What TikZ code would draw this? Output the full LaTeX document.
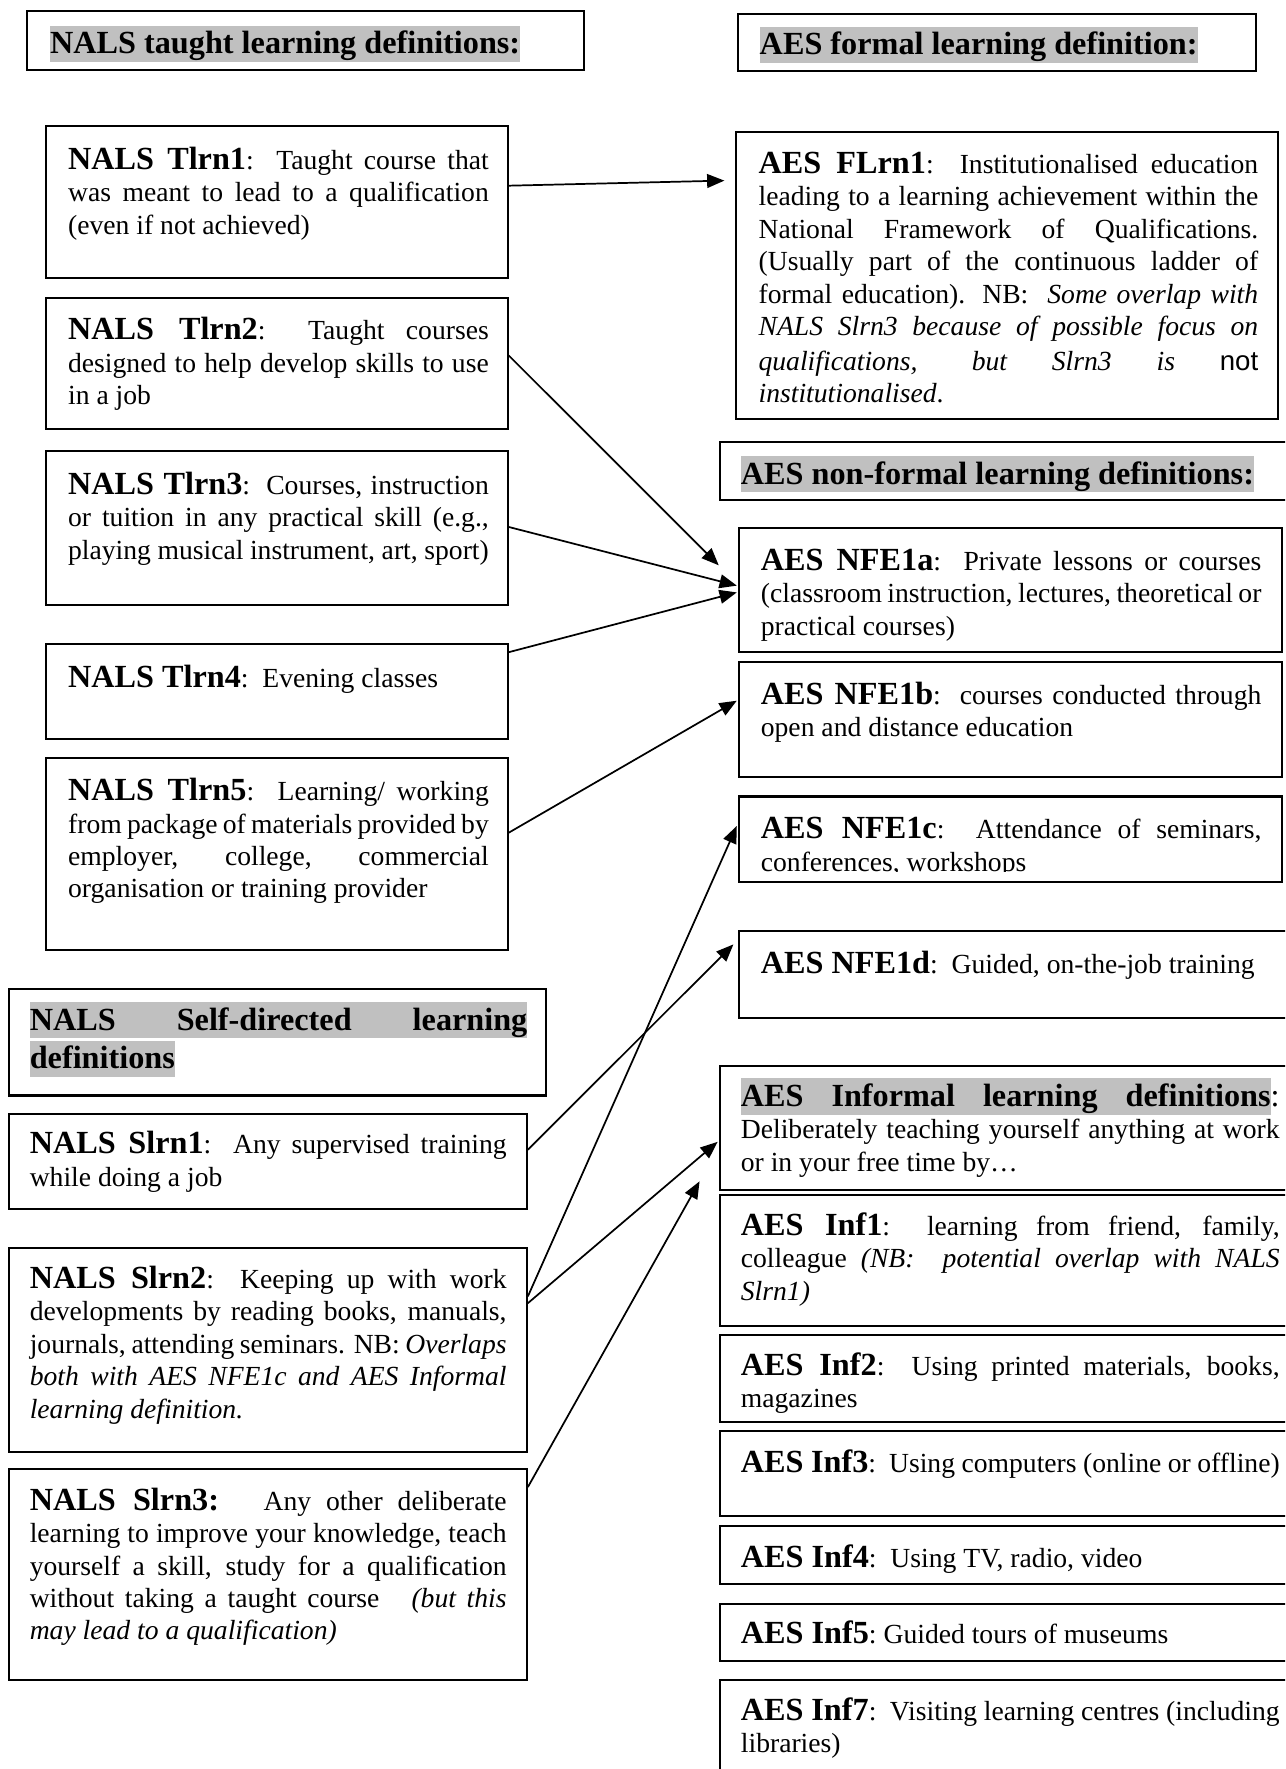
\documentclass[tikz,border=0pt]{standalone}
\usepackage{fontspec}
\setmainfont{Liberation Serif}
\setsansfont{Liberation Sans}
\usetikzlibrary{arrows.meta,fit,calc}
\definecolor{hlgray}{RGB}{192,192,192}
\hyphenpenalty=10000
\exhyphenpenalty=10000
\tolerance=10000
\newcommand{\hd}[1]{{\fontsize{14}{14}\selectfont\bfseries #1}}
\newcommand{\hlstrut}{\rule[-0.26em]{0pt}{1.12em}}
\newcommand{\hlbox}[1]{{\setlength{\fboxsep}{0pt}\colorbox{hlgray}{\hlstrut #1}}}
\tikzset{
  box/.style={draw=black, line width=0.9pt, inner sep=0pt},
  txt/.style={inner sep=0pt, anchor=base west, align=justify, text width=#1,
    font=\fontsize{12}{14.1}\selectfont},
  ttl/.style={inner sep=0pt, anchor=base west, font=\fontsize{14}{16.5}\selectfont\bfseries},
  arr/.style={line width=0.75pt, -{Triangle[length=7.5pt,width=6pt]}},
}
\begin{document}
\begin{tikzpicture}[x=0.49pt,y=-0.49pt]
\useasboundingbox (0,0) rectangle (1139,1568);
\fill[white] (0,0) rectangle (1139,1568);
\clip (0,0) rectangle (1139,1568);

% ---------- boxes ----------
\node[box, fit={(24,10) (518,62)}] (bH1) {};
\node[box, fit={(654,12) (1113,63)}] (bH2) {};
\node[box, fit={(41,112) (450,246)}] (bT1) {};
\node[box, fit={(41,264) (450,380)}] (bT2) {};
\node[box, fit={(41,400) (450,536)}] (bT3) {};
\node[box, fit={(41,571) (450,655)}] (bT4) {};
\node[box, fit={(41,672) (450,842)}] (bT5) {};
\node[box, fit={(652,117) (1133,371)}] (bF1) {};
\node[box, fit={(638,392) (1150,443)}] (bHnf) {};
\node[box, fit={(655,468) (1136,578)}] (bN1a) {};
\node[box, fit={(655,587) (1136,689)}] (bN1b) {};
\node[box, fit={(655,706) (1136,782)}] (bN1c) {};
\node[box, fit={(655,825) (1150,902)}] (bN1d) {};
\node[box, fit={(8,877) (484,971)}] (bHsd) {};
\node[box, fit={(8,987) (467,1072)}] (bS1) {};
\node[box, fit={(8,1106) (467,1287)}] (bS2) {};
\node[box, fit={(8,1302) (467,1489)}] (bS3) {};
\node[box, fit={(638,945) (1150,1055)}] (bInf) {};
\node[box, fit={(638,1059) (1150,1175)}] (bI1) {};
\node[box, fit={(638,1183) (1150,1260)}] (bI2) {};
\node[box, fit={(638,1268) (1150,1344)}] (bI3) {};
\node[box, fit={(638,1353) (1150,1404)}] (bI4) {};
\node[box, fit={(638,1422) (1150,1472)}] (bI5) {};
\node[box, fit={(638,1489) (1150,1590)}] (bI7) {};

% ---------- headings ----------
\node[ttl] (tH1) at (44,47.3) {\hlbox{NALS taught learning definitions:}};
\node[ttl] (tH2) at (673,48.5) {\hlbox{AES formal learning definition:}};
\node[ttl] (tHnf) at (656.3,429) {\hlbox{AES non-formal learning definitions:}};
\node[txt=216.1pt, font=\fontsize{14}{16.9}\selectfont\bfseries] (tHsd) at (26,913)
  {\hlbox{\makebox[\linewidth][s]{NALS Self-directed learning}}\par\hlbox{definitions}};

% ---------- NALS taught ----------
\node[txt=182.7pt] (tT1) at (60,150) {\hd{NALS Tlrn1}:\ \ Taught course that\linebreak was meant to lead to a qualification\linebreak (even if not achieved)};
\node[txt=182.7pt] (tT2) at (60,301) {\hd{NALS Tlrn2}:\ \ Taught courses\linebreak designed to help develop skills to use\linebreak in a job};
\node[txt=182.7pt] (tT3) at (60,438) {\hd{NALS Tlrn3}:\ \ Courses, instruction\linebreak or tuition in any practical skill (e.g.,\linebreak playing musical instrument, art, sport)};
\node[txt=182.7pt] (tT4) at (60,609) {\hd{NALS Tlrn4}:\ \ Evening classes};
\node[txt=182.7pt] (tT5) at (60,709.6) {\hd{NALS Tlrn5}:\ \ Learning/ working\linebreak from package of materials provided by\linebreak employer, college, commercial\linebreak organisation or training provider};

% ---------- AES formal ----------
\node[txt=217pt] (tF1) at (672,153.5) {\hd{AES FLrn1}:\ \ Institutionalised education\linebreak leading to a learning achievement within the\linebreak National Framework of Qualifications.\linebreak (Usually part of the continuous ladder of\linebreak formal education). NB:\ \ \textit{Some overlap with\linebreak NALS Slrn3 because of possible focus on}\vspace{1pt}\linebreak \textit{qualifications, but Slrn3 is} {\sffamily not}\linebreak \textit{institutionalised}.};

% ---------- AES non-formal ----------
\node[txt=217.4pt] (tN1a) at (674,505.6) {\hd{AES NFE1a}:\ \ Private lessons or courses\linebreak (classroom instruction, lectures, theoretical or\linebreak practical courses)};
\node[txt=217.4pt] (tN1b) at (674,624) {\hd{AES NFE1b}:\ \ courses conducted through\linebreak open and distance education};
\begin{scope}
\clip ($(bN1c.north west)+(0,-5)$) rectangle ($(bN1c.north east)+(0,67)$);
\node[txt=217.4pt] (tN1c) at (674,743.6) {\hd{AES NFE1c}:\ \ Attendance of seminars,\linebreak conferences, workshops};
\end{scope}
\node[txt=217.4pt] (tN1d) at (674,863) {\hd{AES NFE1d}:\ \ Guided, on-the-job training};

% ---------- NALS self-directed ----------
\node[txt=207.1pt] (tS1) at (26,1022.5) {\hd{NALS Slrn1}:\ \ Any supervised training\linebreak while doing a job};
\node[txt=207.1pt] (tS2) at (26,1142) {\hd{NALS Slrn2}:\ \ Keeping up with work\linebreak developments by reading books, manuals,\linebreak journals, attending seminars. NB: \textit{Overlaps\linebreak both with AES NFE1c and AES Informal\linebreak learning definition.}};
\node[txt=207.1pt] (tS3) at (26,1338.5) {\hd{NALS Slrn3:}\ \ \ Any other deliberate\linebreak learning to improve your knowledge, teach\linebreak yourself a skill, study for a qualification\linebreak without taking a taught course\ \ \ \textit{(but this\linebreak may lead to a qualification)}};

% ---------- AES informal ----------
\node[txt=234pt] (tInf) at (656.3,980.5) {{\fontsize{14}{14}\selectfont\setbox0\hbox{:}\hlbox{\makebox[\dimexpr\linewidth-\wd0\relax][s]{\bfseries AES Informal learning definitions}}:}\par Deliberately teaching yourself anything at work\linebreak or in your free time by…};
\node[txt=234pt] (tI1) at (656.3,1095) {\hd{AES Inf1}:\ \ learning from friend, family,\linebreak colleague \textit{(NB:\ \ potential overlap with NALS\linebreak Slrn1)}};
\node[txt=234pt] (tI2) at (656.3,1219) {\hd{AES Inf2}:\ \ Using printed materials, books,\linebreak magazines};
\node[txt=234pt] (tI3) at (656.3,1305) {\hd{AES Inf3}:\ \ Using computers (online or offline)};
\node[txt=234pt] (tI4) at (656.3,1389) {\hd{AES Inf4}:\ \ Using TV, radio, video};
\node[txt=234pt] (tI5) at (656.3,1457) {\hd{AES Inf5}:\ Guided tours of museums};
\node[txt=234pt] (tI7) at (656.3,1525) {\hd{AES Inf7}:\ \ Visiting learning centres (including\linebreak libraries)};

% ---------- connectors ----------
\draw[arr] ($(bT1.north east)+(0,53.5)$) -- ($(bF1.north west)+(-9,44)$);
\draw[arr] ($(bT2.north east)+(0,52)$) -- ($(bN1a.north west)+(-17,34)$);
\draw[arr] ($(bT3.north east)+(0,68)$) -- ($(bN1a.north west)+(-1,52)$);
\draw[arr] ($(bT4.north east)+(0,8)$) -- ($(bN1a.north west)+(-1,58)$);
\draw[arr] ($(bT5.north east)+(0,67)$) -- ($(bN1b.north west)+(-1,35)$);
\draw[arr] ($(bS1.north east)+(0,33)$) -- ($(bN1d.north west)+(-4,13)$);
\draw[arr] ($(bS2.north east)+(0,44)$) -- ($(bN1c.north west)+(-1,27)$);
\draw[arr] ($(bS2.north east)+(0,50)$) -- ($(bInf.north west)+(-1,68)$);
\draw[arr] ($(bS3.north east)+(0,17)$) -- ($(bInf.north west)+(-17,103)$);
\end{tikzpicture}
\end{document}
